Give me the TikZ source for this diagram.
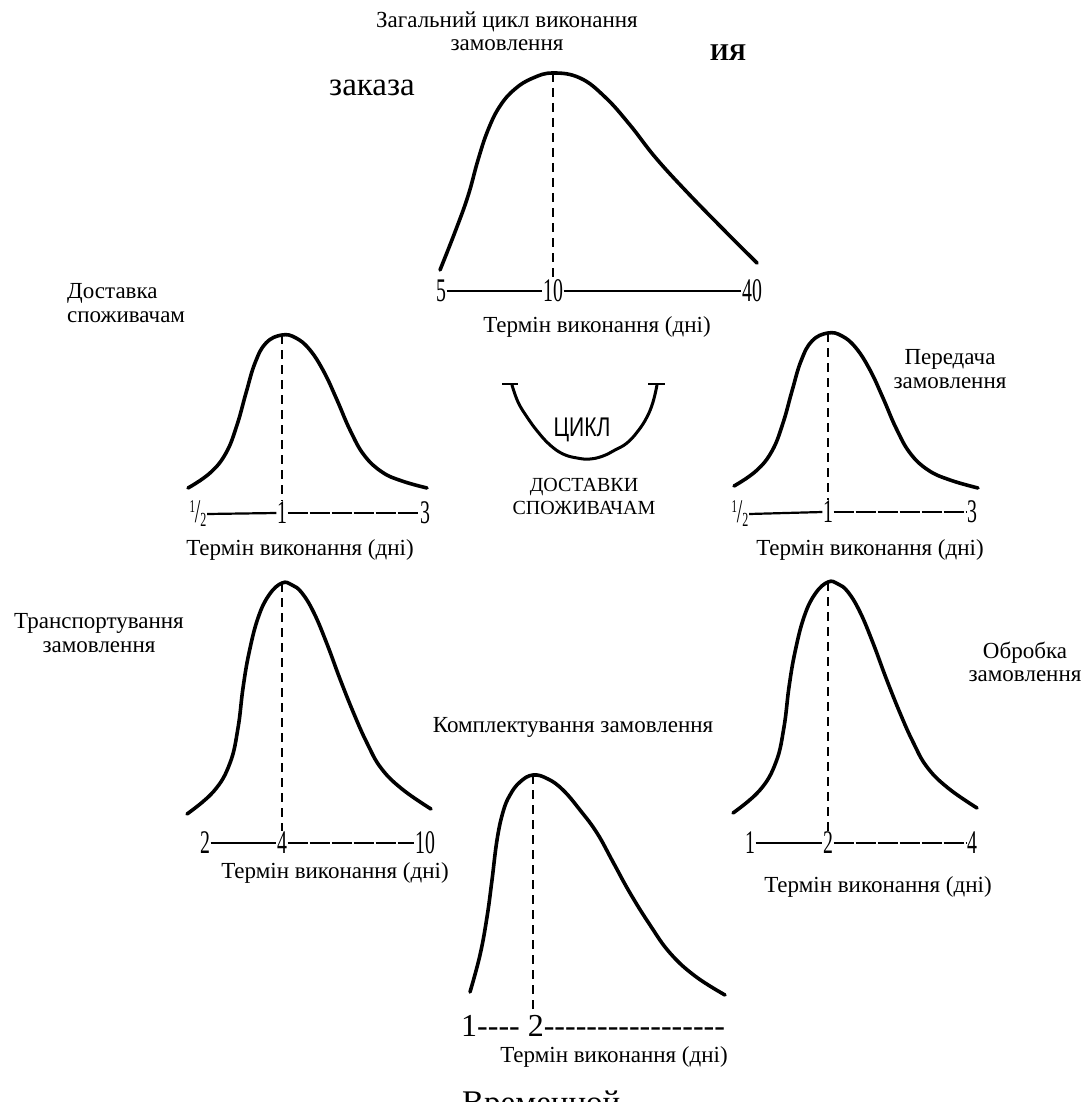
\documentclass[tikz,border=0pt]{standalone}
\usepackage{fontspec}
\setmainfont{Liberation Serif}
\newfontfamily\cyklfont{Liberation Sans}
\usepackage{graphicx}
\newcommand\nm[1]{\scalebox{0.6}[1]{#1}}
\newcommand\hy{\mbox{-}}
\newcommand\halfnum{{\fontsize{18}{18}\selectfont\raisebox{10pt}{\nm{1}}}\nm{/}{\fontsize{20}{20}\selectfont\raisebox{-4pt}{\nm{2}}}}
\begin{document}
\begin{tikzpicture}[x=1pt,y=-1pt,
  curve/.style={line width=3.6pt, line cap=round, line join=round},
  vdash/.style={line width=2pt, dash pattern=on 9pt off 6pt},
  axisline/.style={line width=2.2pt},
  brokenline/.style={line width=2.2pt, dash pattern=on 20pt off 2pt},
  lbl/.style={font=\fontsize{23}{23.5}\selectfont, inner sep=0pt, align=center},
  num/.style={font=\fontsize{33}{33}\selectfont, inner sep=0.5pt}]
\useasboundingbox (0,0) rectangle (1086,1102);

% ---------- top: general cycle ----------
\node[lbl] (title) at (507,31) {Загальний цикл виконання\\замовлення};
\node[font=\fontsize{24}{24}\selectfont\bfseries, inner sep=0pt] (iya) at (728,53) {ИЯ};
\node[font=\fontsize{33}{33}\selectfont, inner sep=0pt] (zakaza) at (372,88) {заказа};
\draw[curve] plot[smooth, tension=0.7] coordinates {(440,270) (455,232) (468,196) (478,160) (488,130) (500,106) (515,89) (533,78) (553,73) (580,78) (605,97) (630,125) (655,157) (685,190) (720,226) (757,263)};
\coordinate (pkT) at (553,73);
\node[num] (t5) at (441,291) {\nm{5}};
\node[num] (t10) at (553,291) {\nm{10}};
\node[num] (t40) at (752,291) {\nm{40}};
\draw[vdash] (pkT) -- (t10.north);
\draw[axisline] (t5.east) -- (t10.west);
\draw[axisline] (t10.east) -- (t40.west);
\node[lbl] (tlab) at (597,327) {Термін виконання (дні)};

% ---------- middle left: delivery ----------
\node[lbl, align=left, anchor=west] (dost) at (67,303) {Доставка\\споживачам};
\begin{scope}[shift={(282,335)}]
\draw[curve] plot[smooth, tension=0.7] coordinates {(-94,153) (-72,138) (-56,118) (-45,90) (-36,58) (-27,28) (-16,8) (0,0) (14,3) (28,15) (42,37) (55,65) (68,95) (82,120) (100,137) (120,146) (145,153)};
\coordinate (pkML) at (0,0);
\end{scope}
\node[num] (ml12) at (198,514) {\halfnum};
\node[num] (ml1) at (282,513) {\nm{1}};
\node[num] (ml3) at (425,513) {\nm{3}};
\draw[vdash] (pkML) -- (ml1.north);
\draw[axisline] (ml12.east) -- (ml1.west);
\draw[brokenline] (ml1.east) -- (ml3.west);
\node[lbl] (mllab) at (300,550) {Термін виконання (дні)};

% ---------- middle right: order transfer ----------
\node[lbl] (pered) at (950,369) {Передача\\замовлення};
\begin{scope}[shift={(828,333)}]
\draw[curve] plot[smooth, tension=0.7] coordinates {(-94,153) (-72,138) (-56,118) (-45,90) (-36,58) (-27,28) (-16,8) (0,0) (14,3) (28,15) (42,37) (55,65) (68,95) (82,120) (100,137) (122,147) (150,155)};
\coordinate (pkMR) at (0,0);
\end{scope}
\node[num] (mr12) at (740,514) {\halfnum};
\node[num] (mr1) at (828,512) {\nm{1}};
\node[num] (mr3) at (972,512) {\nm{3}};
\draw[vdash] (pkMR) -- (mr1.north);
\draw[axisline] (mr12.east) -- (mr1.west);
\draw[brokenline] (mr1.east) -- (mr3.west);
\node[lbl] (mrlab) at (870,550) {Термін виконання (дні)};

% ---------- centre: cycle ----------
\draw[line width=3pt, line cap=round] plot[smooth, tension=0.7] coordinates {(512,385) (518,402) (527,417) (538,432) (550,445) (563,454) (577,458) (590,459) (603,456) (615,450) (627,443) (638,431) (647,417) (653,402) (657,385)};
\coordinate (uL) at (502,384);
\coordinate (uLr) at (518,384);
\coordinate (uR) at (648,384);
\coordinate (uRr) at (665,384);
\draw[line width=2pt] (uL) -- (uLr);
\draw[line width=2pt] (uR) -- (uRr);
\node[inner sep=0pt] (cykl) at (582,430) {\cyklfont\fontsize{27}{27}\selectfont\scalebox{0.78}[1]{ЦИКЛ}};
\node[font=\fontsize{20}{23}\selectfont, inner sep=0pt, align=center] (dostav) at (584,496) {ДОСТАВКИ\\СПОЖИВАЧАМ};

% ---------- bottom left: transportation ----------
\node[lbl] (transp) at (99,633) {Транспортування\\замовлення};
\begin{scope}[shift={(282,583)}]
\draw[curve] plot[smooth, tension=0.7] coordinates {(-95,231) (-68,208) (-52,180) (-44,145) (-39,105) (-33,70) (-24,35) (-13,12) (0,0) (10,2) (20,10) (32,30) (45,61) (58,96) (72,131) (85,160) (99,185) (120,206) (149,226)};
\coordinate (pkBL) at (0,0);
\end{scope}
\node[num] (bl2) at (205,843) {\nm{2}};
\node[num] (bl4) at (282,843) {\nm{4}};
\node[num] (bl10) at (425,843) {\nm{10}};
\draw[vdash] (pkBL) -- (bl4.north);
\draw[axisline] (bl2.east) -- (bl4.west);
\draw[brokenline] (bl4.east) -- (bl10.west);
\node[lbl] (bllab) at (335,873) {Термін виконання (дні)};

% ---------- bottom right: processing ----------
\node[lbl] (obrob) at (1025,662) {Обробка\\замовлення};
\begin{scope}[shift={(828,582)}]
\draw[curve] plot[smooth, tension=0.7] coordinates {(-95,231) (-68,208) (-52,180) (-44,145) (-39,105) (-33,70) (-24,35) (-13,12) (0,0) (10,2) (20,10) (32,30) (45,61) (58,96) (72,131) (85,160) (99,185) (120,206) (149,226)};
\coordinate (pkBR) at (0,0);
\end{scope}
\node[num] (br1) at (750,843) {\nm{1}};
\node[num] (br2) at (828,843) {\nm{2}};
\node[num] (br4) at (972,843) {\nm{4}};
\draw[vdash] (pkBR) -- (br2.north);
\draw[axisline] (br1.east) -- (br2.west);
\draw[brokenline] (br2.east) -- (br4.west);
\node[lbl] (brlab) at (878,887) {Термін виконання (дні)};

% ---------- bottom centre: picking ----------
\node[lbl] (kompl) at (573,727) {Комплектування замовлення};
\draw[curve] plot[smooth, tension=0.7] coordinates {(470,992) (480,955) (487,917) (492,880) (497,840) (503,812) (510,795) (520,782) (533,775) (548,779) (563,790) (580,810) (597,833) (613,862) (630,893) (650,925) (670,953) (695,976) (725,995)};
\coordinate (pkC) at (533,775);
\coordinate (axC) at (533,1010);
\draw[vdash] (pkC) -- (axC);
\node[font=\fontsize{32}{32}\selectfont, inner sep=0pt, anchor=base west] (caxis) at (461,1036) {1\hy\hy\hy\hy\ 2\hy\hy\hy\hy\hy\hy\hy\hy\hy\hy\hy\hy\hy\hy\hy\hy\hy};
\node[lbl] (clab) at (614,1057) {Термін виконання (дні)};
\node[font=\fontsize{33}{33}\selectfont, inner sep=0pt, anchor=base west] (vrem) at (462,1113) {Временной};
\end{tikzpicture}
\end{document}
